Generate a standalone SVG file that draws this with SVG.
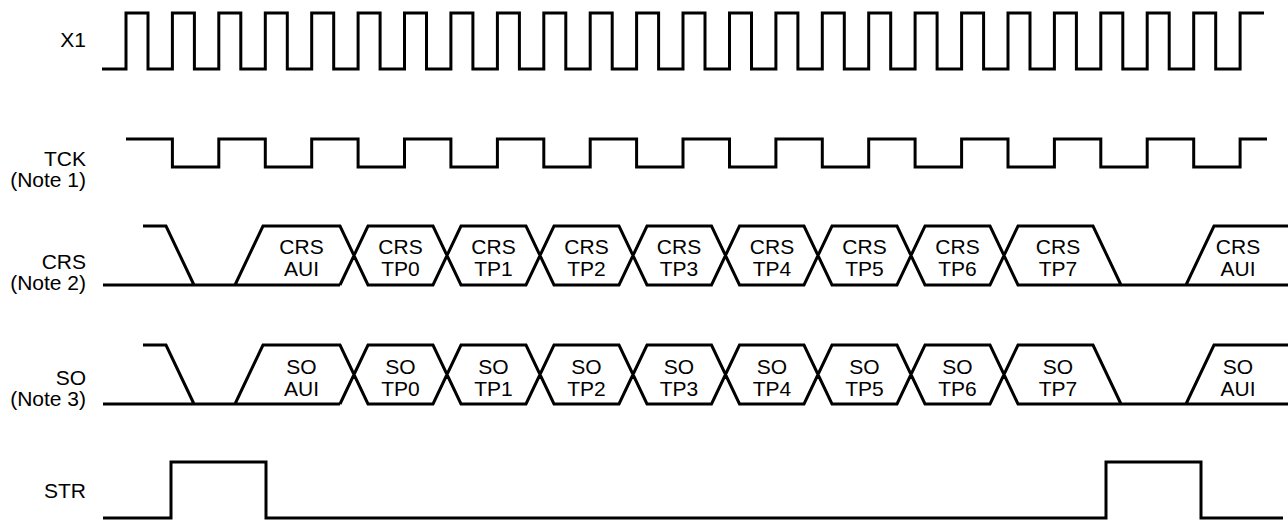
<svg xmlns="http://www.w3.org/2000/svg" width="1288" height="520" viewBox="0 0 1288 520">
<style>
.w{fill:none;stroke:#000;stroke-width:3;stroke-linejoin:miter;stroke-linecap:butt}
.lbl{font-family:"Liberation Sans",Arial,sans-serif;font-size:21px;fill:#000;text-anchor:end}
.t{font-family:"Liberation Sans",Arial,sans-serif;font-size:21px;fill:#000;text-anchor:middle}
</style>
<rect width="1288" height="520" fill="#fff"/>
<g id="labels">
<text class="lbl" x="86" y="47">X1</text>
<text class="lbl" x="86" y="166">TCK</text>
<text class="lbl" x="86" y="187">(Note 1)</text>
<text class="lbl" x="86" y="269">CRS</text>
<text class="lbl" x="86" y="290">(Note 2)</text>
<text class="lbl" x="86" y="385">SO</text>
<text class="lbl" x="86" y="406">(Note 3)</text>
<text class="lbl" x="86" y="498">STR</text>
</g>
<g id="x1">
<path class="w" d="M102,69 H126 V13 H148 V69 H172.4 V13 H194.4 V69 H218.8 V13 H240.8 V69 H265.3 V13 H287.3 V69 H311.7 V13 H333.7 V69 H358.1 V13 H380.1 V69 H404.5 V13 H426.5 V69 H450.9 V13 H472.9 V69 H497.4 V13 H519.4 V69 H543.8 V13 H565.8 V69 H590.2 V13 H612.2 V69 H636.6 V13 H658.6 V69 H683 V13 H705 V69 H729.5 V13 H751.5 V69 H775.9 V13 H797.9 V69 H822.3 V13 H844.3 V69 H868.7 V13 H890.7 V69 H915.1 V13 H937.1 V69 H961.6 V13 H983.6 V69 H1008 V13 H1030 V69 H1054.4 V13 H1076.4 V69 H1100.8 V13 H1122.8 V69 H1147.2 V13 H1169.2 V69 H1193.7 V13 H1215.7 V69 H1240.1 V13 H1264"/>
</g>
<g id="tck">
<path class="w" d="M126,139 H172.4 V167 H218.8 V139 H265.3 V167 H311.7 V139 H358.1 V167 H404.5 V139 H450.9 V167 H497.4 V139 H543.8 V167 H590.2 V139 H636.6 V167 H683 V139 H729.5 V167 H775.9 V139 H822.3 V167 H868.7 V139 H915.1 V167 H961.6 V139 H1008 V167 H1054.4 V139 H1100.8 V167 H1147.2 V139 H1193.7 V167 H1240.1 V139 H1267"/>
</g>
<g id="crs">
<path class="w" d="M143,226 H166 L194,285 M103,285 H340 M235,285 L263,226 H340 L368,285 H433 L461,226 H526 L554,285 H619 L647,226 H711.5 L739.5,285 H804 L832,226 H897 L925,285 H990 L1018,226 H1093 L1121,285 M340,285 L368,226 H433 L461,285 H526 L554,226 H619 L647,285 H711.5 L739.5,226 H804 L832,285 H897 L925,226 H990 L1018,285 H1288 M1186,285 L1214,226 H1288"/>
<g class="t">
<text class="t" x="301.5" y="254">CRS</text><text class="t" x="301.5" y="276">AUI</text>
<text class="t" x="400.5" y="254">CRS</text><text class="t" x="400.5" y="276">TP0</text>
<text class="t" x="493.5" y="254">CRS</text><text class="t" x="493.5" y="276">TP1</text>
<text class="t" x="586.5" y="254">CRS</text><text class="t" x="586.5" y="276">TP2</text>
<text class="t" x="679" y="254">CRS</text><text class="t" x="679" y="276">TP3</text>
<text class="t" x="772" y="254">CRS</text><text class="t" x="772" y="276">TP4</text>
<text class="t" x="864.5" y="254">CRS</text><text class="t" x="864.5" y="276">TP5</text>
<text class="t" x="957.5" y="254">CRS</text><text class="t" x="957.5" y="276">TP6</text>
<text class="t" x="1058" y="254">CRS</text><text class="t" x="1058" y="276">TP7</text>
<text class="t" x="1238" y="254">CRS</text><text class="t" x="1238" y="276">AUI</text>
</g>
</g>
<g id="so">
<path class="w" d="M143,345 H166 L194,404 M103,404 H340 M235,404 L263,345 H340 L368,404 H433 L461,345 H526 L554,404 H619 L647,345 H711.5 L739.5,404 H804 L832,345 H897 L925,404 H990 L1018,345 H1093 L1121,404 M340,404 L368,345 H433 L461,404 H526 L554,345 H619 L647,404 H711.5 L739.5,345 H804 L832,404 H897 L925,345 H990 L1018,404 H1288 M1186,404 L1214,345 H1288"/>
<g>
<text class="t" x="301.5" y="374">SO</text><text class="t" x="301.5" y="396">AUI</text>
<text class="t" x="400.5" y="374">SO</text><text class="t" x="400.5" y="396">TP0</text>
<text class="t" x="493.5" y="374">SO</text><text class="t" x="493.5" y="396">TP1</text>
<text class="t" x="586.5" y="374">SO</text><text class="t" x="586.5" y="396">TP2</text>
<text class="t" x="679" y="374">SO</text><text class="t" x="679" y="396">TP3</text>
<text class="t" x="772" y="374">SO</text><text class="t" x="772" y="396">TP4</text>
<text class="t" x="864.5" y="374">SO</text><text class="t" x="864.5" y="396">TP5</text>
<text class="t" x="957.5" y="374">SO</text><text class="t" x="957.5" y="396">TP6</text>
<text class="t" x="1058" y="374">SO</text><text class="t" x="1058" y="396">TP7</text>
<text class="t" x="1238" y="374">SO</text><text class="t" x="1238" y="396">AUI</text>
</g>
</g>
<g id="str">
<path class="w" d="M103,518 H171 V462 H266 V518 H1106 V462 H1201 V518 H1283"/>
</g>
<g id="connectors"></g>
</svg>
